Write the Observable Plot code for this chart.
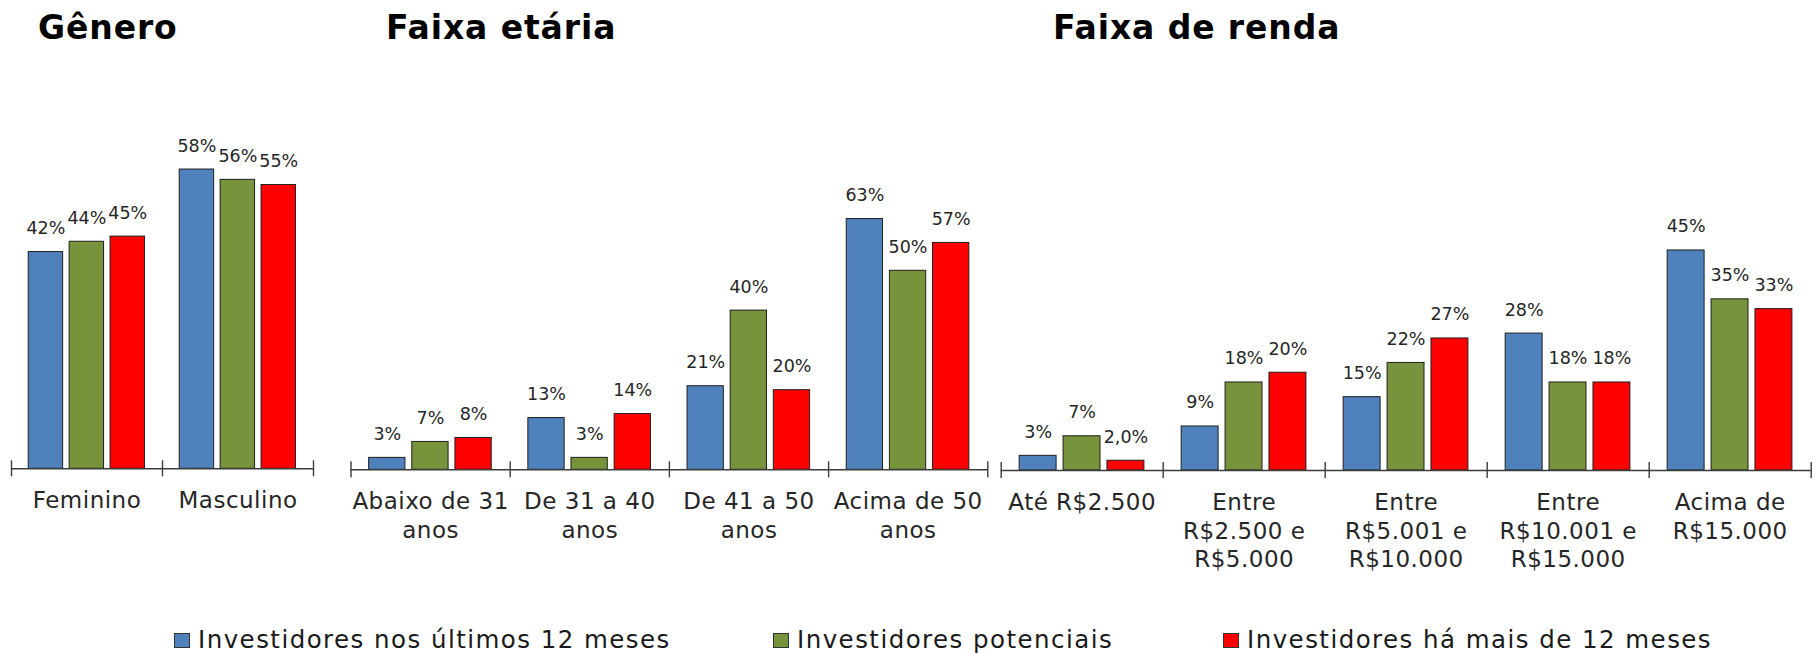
<!DOCTYPE html>
<html>
<head>
<meta charset="utf-8">
<script src="https://cdn.jsdelivr.net/npm/d3@7"></script>
<script src="https://cdn.jsdelivr.net/npm/@observablehq/plot@0.6"></script>
<style>
  html, body { margin: 0; padding: 0; background: #ffffff; }
  #root { position: relative; width: 1818px; height: 653px; overflow: hidden; background: #fff; font-family: "DejaVu Sans", sans-serif; color: #1a1a1a; }
  .title { position: absolute; font-family: "DejaVu Sans", sans-serif; font-weight: bold; font-size: 33px; line-height: 33px; letter-spacing: 0.9px; color: #000; white-space: nowrap; }
  .panel { position: absolute; top: 0; }
  .legend-item { position: absolute; top: 626px; height: 28px; display: flex; align-items: center; white-space: nowrap; }
  .swatch { width: 16px; height: 15px; box-sizing: border-box; border: 1px solid #333; margin-right: 8px; }
  .legend-text { font-size: 24.5px; line-height: 28px; letter-spacing: 1.45px; color: #1a1a1a; }
</style>
</head>
<body>
<div id="root"></div>
<script>
// ---------------- DATA ----------------
const seriesNames = ["Investidores nos últimos 12 meses", "Investidores potenciais", "Investidores há mais de 12 meses"];
const seriesColors = ["#4F81BD", "#77933C", "#FF0000"];

const titles = ["Gênero", "Faixa etária", "Faixa de renda"];

const generoCats = ["Feminino", "Masculino"];
const generoUltimos = [42, 58];
const generoPotenciais = [44, 56];
const generoMais12 = [45, 55];

const idadeCats = ["Abaixo de 31\nanos", "De 31 a 40\nanos", "De 41 a 50\nanos", "Acima de 50\nanos"];
const idadeUltimos = [3, 13, 21, 63];
const idadePotenciais = [7, 3, 40, 50];
const idadeMais12 = [8, 14, 20, 57];

const rendaCats = ["Até R$2.500", "Entre\nR$2.500 e\nR$5.000", "Entre\nR$5.001 e\nR$10.000", "Entre\nR$10.001 e\nR$15.000", "Acima de\nR$15.000"];
const rendaUltimos = [3, 9, 15, 28, 45];
const rendaPotenciais = [7, 18, 22, 18, 35];
const rendaMais12 = [2.0, 20, 27, 18, 33];
const rendaMais12Labels = ["2,0%", "20%", "27%", "18%", "33%"];

// ---------------- LAYOUT (not data) ----------------
const PAD = 0.114, BAR = 0.228, GAP = 0.043;
const panels = [
  {cats: generoCats, series: [generoUltimos, generoPotenciais, generoMais12], labels: [null, null, null],
   left: 0, width: 330, axisStart: 11, axisEnd: 313, axisY: 468.3, k: 5.16, titleLeft: 38},
  {cats: idadeCats, series: [idadeUltimos, idadePotenciais, idadeMais12], labels: [null, null, null],
   left: 330, width: 670, axisStart: 350.5, axisEnd: 987.3, axisY: 469.3, k: 3.98, titleLeft: 386},
  {cats: rendaCats, series: [rendaUltimos, rendaPotenciais, rendaMais12], labels: [null, null, rendaMais12Labels],
   left: 995, width: 823, axisStart: 1000.7, axisEnd: 1810.7, axisY: 470, k: 4.89, titleLeft: 1053}
];

const root = document.getElementById("root");
const axisColor = "#3c3c3c";
const textColor = "#262626";

panels.forEach((p, pi) => {
  const rows = [];
  p.cats.forEach((c, ci) => {
    p.series.forEach((vals, si) => {
      rows.push({
        cat: c, ci, si, series: seriesNames[si], value: vals[ci],
        label: p.labels[si] ? p.labels[si][ci] : `${vals[ci]}%`
      });
    });
  });
  const n = p.cats.length;
  const x1 = d => d.ci + PAD + d.si * (BAR + GAP);
  const tick = 8 / p.k;

  const chart = Plot.plot({
    width: p.width,
    height: 600,
    marginLeft: p.axisStart - p.left,
    marginRight: p.left + p.width - p.axisEnd,
    marginTop: 0,
    marginBottom: 0,
    x: {domain: [0, n], axis: null},
    y: {domain: [0, 100], range: [p.axisY, p.axisY - 100 * p.k], axis: null},
    color: {domain: seriesNames, range: seriesColors},
    style: {background: "transparent", overflow: "visible", fontFamily: "DejaVu Sans, sans-serif"},
    marks: [
      Plot.rect(rows, {
        x1: d => x1(d), x2: d => x1(d) + BAR, y1: 0, y2: "value",
        fill: "series", stroke: "#1f1f1f", strokeWidth: 1
      }),
      Plot.ruleY([0], {stroke: axisColor, strokeWidth: 1.6}),
      Plot.ruleX(d3.range(n + 1), {x: d => d, y1: -tick, y2: tick, stroke: axisColor, strokeWidth: 1.4}),
      Plot.text(rows, {
        x: d => x1(d) + BAR / 2, y: "value", text: "label",
        lineAnchor: "bottom", dy: -18, fontSize: 17.5, fill: textColor
      }),
      Plot.text(p.cats, {
        x: (d, i) => i + 0.5, y: 0, text: d => d,
        lineAnchor: "top", dy: 19, fontSize: 23, lineHeight: 1.25, fill: textColor
      })
    ]
  });
  chart.classList.add("panel");
  chart.style.left = p.left + "px";
  const gs = chart.querySelectorAll('g[aria-label="text"]');
  if (gs.length) gs[gs.length - 1].style.letterSpacing = "0.5px";
  root.appendChild(chart);

  const t = document.createElement("div");
  t.className = "title";
  t.textContent = titles[pi];
  t.style.left = p.titleLeft + "px";
  t.style.top = "11px";
  root.appendChild(t);
});

// legend
const legendLefts = [174, 773, 1223];
seriesNames.forEach((s, i) => {
  const item = document.createElement("div");
  item.className = "legend-item";
  item.style.left = legendLefts[i] + "px";
  const sw = document.createElement("div");
  sw.className = "swatch";
  sw.style.background = seriesColors[i];
  const tx = document.createElement("span");
  tx.className = "legend-text";
  tx.textContent = s;
  item.appendChild(sw);
  item.appendChild(tx);
  root.appendChild(item);
});
</script>
</body>
</html>
